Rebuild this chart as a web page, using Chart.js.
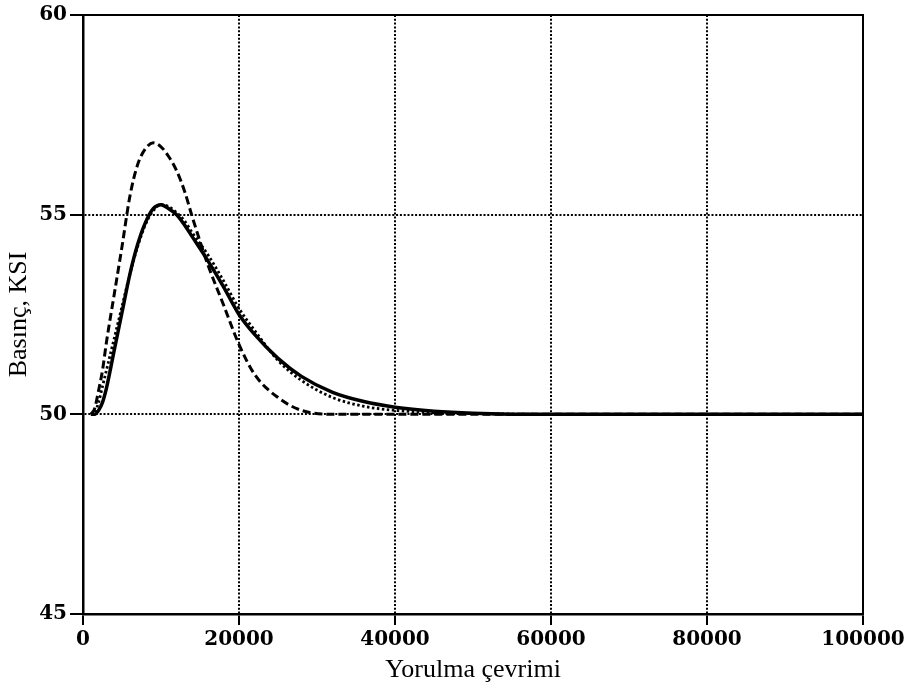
<!DOCTYPE html>
<html lang="tr">
<head>
<meta charset="utf-8">
<title>Basınç - Yorulma çevrimi</title>
<script src="https://cdn.jsdelivr.net/npm/chart.js@4/dist/chart.umd.min.js"></script>
<style>
    html, body { margin: 0; padding: 0; background: #fff; }
    canvas { display: block; }
</style>
</head>
<body>
<canvas id="chart-basinc" width="912" height="692"></canvas>
<script>
// Data
const cycles = [1000, 1500, 2000, 2500, 3000, 4000, 5000, 6000, 7000, 8000, 9000, 10000, 11000, 12000, 13000,
    14000, 16000, 18000, 20000, 22000, 25000, 28000, 32000, 36000, 40000, 45000, 50000, 60000, 80000, 100000];

// solid curve
const pressureSolid = [50, 50, 50.1, 50.3, 50.65, 51.6, 52.55, 53.5, 54.25, 54.8, 55.15, 55.25, 55.15, 55.0, 54.75,
    54.45, 53.85, 53.2, 52.5, 52.0, 51.4, 50.95, 50.55, 50.32, 50.18, 50.08, 50.03, 50, 50, 50];

// dotted curve
const pressureDotted = [50, 50.05, 50.3, 50.7, 51.1, 51.9, 52.7, 53.5, 54.2, 54.75, 55.1, 55.25, 55.2, 55.05, 54.85,
    54.55, 54.0, 53.35, 52.65, 52.1, 51.35, 50.85, 50.42, 50.2, 50.1, 50.04, 50.02, 50, 50, 50];

// dashed curve
const pressureDashed = [50, 50.15, 50.6, 51.1, 51.8, 53.0, 54.2, 55.45, 56.25, 56.65, 56.8, 56.7, 56.45, 56.1, 55.6,
    54.95, 53.75, 52.75, 51.75, 51.0, 50.42, 50.1, 50.0, 50, 50, 50, 50, 50, 50, 50];

const xTicks = [0, 20000, 40000, 60000, 80000, 100000];
const yTicks = [45, 50, 55, 60];

const xTitle = 'Yorulma çevrimi';
const yTitle = 'Basınç, KSI';

window.BasincChart = {
    chart: null,

    init() {
        const ctx = document.getElementById('chart-basinc');
        this.chart = new Chart(ctx, {
            type: 'line',
            data: {
                datasets: [
                    this.makeSeries(pressureDotted, [2.5, 2.5], 2.8),
                    this.makeSeries(pressureDashed, [8, 4], 3),
                    this.makeSeries(pressureSolid, [], 3.5)
                ]
            },
            options: {
                responsive: false,
                animation: false,
                layout: { padding: { left: 0, right: 49, top: 14, bottom: 2 } },
                plugins: {
                    legend: { display: false },
                    tooltip: { enabled: false }
                },
                scales: {
                    x: this.makeAxis('x', 0, 100000, xTicks, xTitle, 11),
                    y: this.makeAxis('y', 45, 60, yTicks, yTitle, 13)
                }
            },
            plugins: [this.framePlugin]
        });
    },

    // one curve, points built from the arrays
    makeSeries(values, dash, width) {
        return {
            data: cycles.map((c, i) => ({ x: c, y: values[i] })),
            borderColor: '#000',
            borderWidth: width,
            borderDash: dash,
            pointRadius: 0,
            cubicInterpolationMode: 'monotone',
            fill: false
        };
    },

    makeAxis(id, min, max, ticks, title, tickLen) {
        return {
            type: 'linear',
            min: min,
            max: max,
            afterBuildTicks(scale) {
                scale.ticks = ticks.map(v => ({ value: v }));
            },
            afterFit(scale) {
                if (id === 'y') scale.width = 83;
                else scale.height = 76;
            },
            grid: {
                color: (c) => (c.tick && (c.tick.value === min || c.tick.value === max)) ? 'rgba(0,0,0,0)' : '#000',
                lineWidth: 2,
                tickColor: '#000',
                tickWidth: 2,
                tickLength: tickLen,
                tickBorderDash: []
            },
            border: { display: true, color: '#000', width: 2.5, dash: [2, 1.8] },
            ticks: {
                color: '#000',
                padding: 3,
                maxRotation: 0,
                autoSkip: false,
                font: { family: 'DejaVu Serif', size: 20, weight: 'bold' },
                callback: (v) => String(v)
            },
            title: {
                display: true,
                text: title,
                color: '#000',
                padding: { top: 4, bottom: 4 },
                font: { family: 'Liberation Serif', size: 26, weight: 'normal' }
            }
        };
    },

    // top and right sides of the box
    framePlugin: {
        id: 'frame',
        afterDraw(chart) {
            const a = chart.chartArea;
            const c = chart.ctx;
            c.save();
            c.strokeStyle = '#000';
            c.lineWidth = 2;
            c.setLineDash([]);
            c.strokeRect(a.left, a.top, a.right - a.left, a.bottom - a.top);
            c.restore();
        }
    }
};

window.BasincChart.init();
</script>
</body>
</html>
